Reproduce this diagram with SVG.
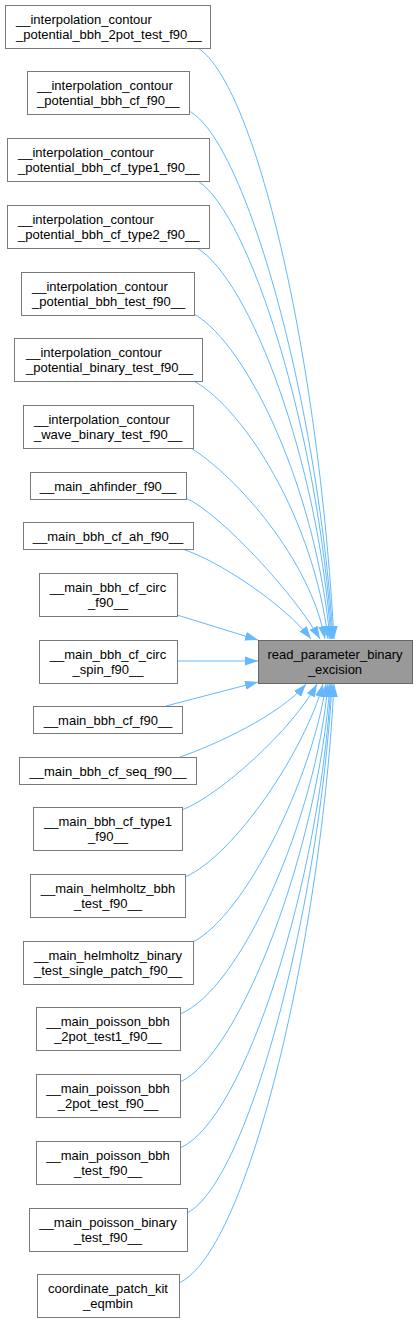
<svg xmlns="http://www.w3.org/2000/svg" width="417" height="1323" viewBox="0 0 417 1323">
<style>
.n rect{fill:#ffffff;stroke:#7a7a7a;stroke-width:1}
.t rect{fill:#999999;stroke:#666666;stroke-width:1}
text{font-family:"Liberation Sans",Arial,sans-serif;font-size:13px;fill:#000000}
.m{text-anchor:middle}
.s{text-anchor:start}
.e path{fill:none;stroke:#63b8ff;stroke-width:1;marker-end:url(#ah)}
</style>
<defs>
<marker id="ah" markerUnits="userSpaceOnUse" markerWidth="14" markerHeight="10" refX="13" refY="5" orient="auto">
<path d="M0,0.5 L13,5 L0,9.5 z" fill="#63b8ff"/>
</marker>
</defs>
<rect width="417" height="1323" fill="#ffffff"/>
<g id="edges" class="e">
<path d="M198,48 C255,85 318,350 334,639"/>
<path d="M189,111 C245,140 318,400 333,639"/>
<path d="M198,181 C250,215 318,430 332,639"/>
<path d="M197,248 C250,280 318,460 331,639"/>
<path d="M194,314 C248,345 316,490 330,639"/>
<path d="M194,381 C245,410 314,520 328,639"/>
<path d="M191,448 C238,478 310,560 325,639"/>
<path d="M186,498 C222,515 295,595 320,639"/>
<path d="M182,549 C218,560 285,605 311,639"/>
<path d="M177,615 L258,640"/>
<path d="M177,661 L258,661"/>
<path d="M166,706 L258,682"/>
<path d="M180,757 C215,745 280,715 306,684"/>
<path d="M182,810 C220,795 292,730 317,684"/>
<path d="M185,877 C235,855 305,750 323,684"/>
<path d="M193,942 C245,915 312,780 326,684"/>
<path d="M180,1014 C240,990 316,820 328,684"/>
<path d="M180,1082 C240,1055 318,850 330,684"/>
<path d="M180,1148 C245,1120 320,880 331,684"/>
<path d="M187,1213 C250,1180 320,900 332,684"/>
<path d="M179,1283 C250,1250 322,930 334,684"/>
</g>
<g id="target" class="t">
<rect x="258.5" y="640.5" width="154" height="43"/>
<text class="m" x="335" y="659">read_parameter_binary</text>
<text class="m" x="335" y="674">_excision</text>
</g>
<g id="n1" class="n">
<rect x="5.5" y="5.5" width="205" height="43"/>
<text class="s" x="16" y="24">__interpolation_contour</text>
<text class="s" x="16" y="39">_potential_bbh_2pot_test_f90__</text>
</g>
<g id="n2" class="n">
<rect x="27.5" y="71.5" width="162" height="43"/>
<text class="s" x="37" y="90">__interpolation_contour</text>
<text class="s" x="37" y="105">_potential_bbh_cf_f90__</text>
</g>
<g id="n3" class="n">
<rect x="7.5" y="138.5" width="202" height="43"/>
<text class="s" x="18" y="157">__interpolation_contour</text>
<text class="s" x="18" y="172">_potential_bbh_cf_type1_f90__</text>
</g>
<g id="n4" class="n">
<rect x="7.5" y="205.5" width="202" height="43"/>
<text class="s" x="18" y="224">__interpolation_contour</text>
<text class="s" x="18" y="239">_potential_bbh_cf_type2_f90__</text>
</g>
<g id="n5" class="n">
<rect x="21.5" y="272.5" width="173" height="43"/>
<text class="s" x="32" y="291">__interpolation_contour</text>
<text class="s" x="32" y="306">_potential_bbh_test_f90__</text>
</g>
<g id="n6" class="n">
<rect x="14.5" y="338.5" width="188" height="43"/>
<text class="s" x="26" y="357">__interpolation_contour</text>
<text class="s" x="26" y="372">_potential_binary_test_f90__</text>
</g>
<g id="n7" class="n">
<rect x="23.5" y="405.5" width="170" height="43"/>
<text class="s" x="34" y="424">__interpolation_contour</text>
<text class="s" x="34" y="439">_wave_binary_test_f90__</text>
</g>
<g id="n8" class="n">
<rect x="30.5" y="472.5" width="156" height="27"/>
<text class="m" x="108" y="490.5">__main_ahfinder_f90__</text>
</g>
<g id="n9" class="n">
<rect x="23.5" y="522.5" width="170" height="27"/>
<text class="m" x="108" y="540.5">__main_bbh_cf_ah_f90__</text>
</g>
<g id="n10" class="n">
<rect x="39.5" y="573.5" width="138" height="43"/>
<text class="m" x="108" y="592">__main_bbh_cf_circ</text>
<text class="m" x="108" y="607">_f90__</text>
</g>
<g id="n11" class="n">
<rect x="39.5" y="640.5" width="138" height="43"/>
<text class="m" x="108" y="659">__main_bbh_cf_circ</text>
<text class="m" x="108" y="674">_spin_f90__</text>
</g>
<g id="n12" class="n">
<rect x="33.5" y="706.5" width="149" height="27"/>
<text class="m" x="108" y="724.5">__main_bbh_cf_f90__</text>
</g>
<g id="n13" class="n">
<rect x="19.5" y="757.5" width="177" height="27"/>
<text class="m" x="108" y="775.5">__main_bbh_cf_seq_f90__</text>
</g>
<g id="n14" class="n">
<rect x="33.5" y="807.5" width="149" height="43"/>
<text class="m" x="108" y="826">__main_bbh_cf_type1</text>
<text class="m" x="108" y="841">_f90__</text>
</g>
<g id="n15" class="n">
<rect x="30.5" y="874.5" width="155" height="43"/>
<text class="m" x="108" y="893">__main_helmholtz_bbh</text>
<text class="m" x="108" y="908">_test_f90__</text>
</g>
<g id="n16" class="n">
<rect x="23.5" y="941.5" width="170" height="43"/>
<text class="m" x="108" y="960">__main_helmholtz_binary</text>
<text class="m" x="108" y="975">_test_single_patch_f90__</text>
</g>
<g id="n17" class="n">
<rect x="36.5" y="1007.5" width="144" height="43"/>
<text class="m" x="108" y="1026">__main_poisson_bbh</text>
<text class="m" x="108" y="1041">_2pot_test1_f90__</text>
</g>
<g id="n18" class="n">
<rect x="36.5" y="1074.5" width="144" height="43"/>
<text class="m" x="108" y="1093">__main_poisson_bbh</text>
<text class="m" x="108" y="1108">_2pot_test_f90__</text>
</g>
<g id="n19" class="n">
<rect x="36.5" y="1141.5" width="144" height="43"/>
<text class="m" x="108" y="1160">__main_poisson_bbh</text>
<text class="m" x="108" y="1175">_test_f90__</text>
</g>
<g id="n20" class="n">
<rect x="29.5" y="1208.5" width="158" height="43"/>
<text class="m" x="108" y="1227">__main_poisson_binary</text>
<text class="m" x="108" y="1242">_test_f90__</text>
</g>
<g id="n21" class="n">
<rect x="37.5" y="1274.5" width="142" height="43"/>
<text class="m" x="108" y="1293">coordinate_patch_kit</text>
<text class="m" x="108" y="1308">_eqmbin</text>
</g>
</svg>
